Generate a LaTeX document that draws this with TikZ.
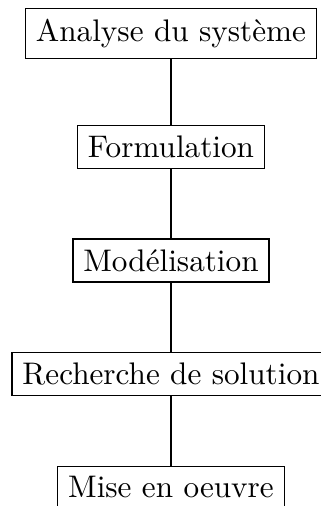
\documentclass[tikz,border=0pt]{standalone}
\usepackage{amsmath}
\usepackage{tikz}

\begin{document}
\begin{tikzpicture}[scale=1, every node/.style={scale=1}, etape/.style={draw}]
\useasboundingbox (-1.926,0.377) rectangle (1.679,-5.323);
\node[etape] (analyse) at (0,0) {Analyse du système};
\node[etape] (formul) at (0,-1.279) {Formulation};
\node[etape] (modele) at (0,-2.557) {Modélisation};
\node[etape] (recherche) at (0,-3.836) {Recherche de solution};
\node[etape] (oeuvre) at (0,-5.114) {Mise en oeuvre};
\draw (analyse)--(formul);
\draw (formul)--(modele);
\draw (modele)--(recherche);
\draw (recherche)--(oeuvre);
\end{tikzpicture}
\end{document}
